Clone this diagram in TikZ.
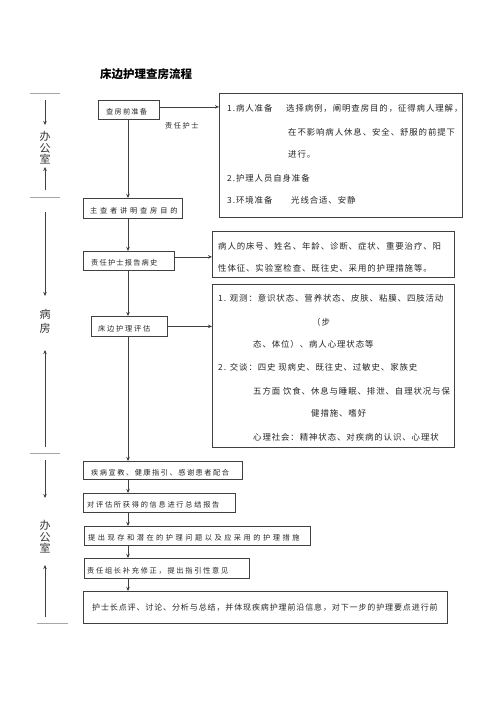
\documentclass[tikz,border=0pt]{standalone}
\usepackage{fontspec}
\newfontfamily\cjk{Noto Sans CJK SC}
\usetikzlibrary{arrows.meta,calc}
\begin{document}
\begin{tikzpicture}[x=1pt,y=-1pt,
 mbox/.style={draw=black!75, line width=0.8pt, anchor=north west, inner sep=0pt},
 txt/.style={anchor=west, inner sep=0pt, text=black!85},
 sm/.style={font=\cjk\fontsize{7.2}{8}\selectfont\addfontfeature{LetterSpace=#1}},
 rt/.style={font=\cjk\fontsize{8.4}{9}\selectfont\addfontfeature{LetterSpace=11}},
 bigt/.style={font=\cjk\fontsize{8}{9}\selectfont\addfontfeature{LetterSpace=11}},
 arr/.style={-{Stealth[length=4pt,width=3.5pt]}, line width=0.7pt, draw=black!75},
 sepl/.style={draw=black!35, line width=0.8pt},
 side/.style={font=\cjk\fontsize{11}{11.5}\selectfont, align=center, inner sep=0pt, text=black!80}
]
\useasboundingbox[fill=white] (0,0) rectangle (500,707);

% title
\node[font=\cjk\bfseries\fontsize{11.5}{12}\selectfont] (title) at (146,74) {床边护理查房流程};

% main boxes
\node[mbox, minimum width=61, minimum height=19] (b1) at (98,100) {};
\node[mbox, minimum width=99, minimum height=20] (b2) at (83,198) {};
\node[mbox, minimum width=91, minimum height=19] (b3) at (83,251) {};
\node[mbox, minimum width=76, minimum height=20] (b4) at (91,316) {};
\node[mbox, minimum width=159, minimum height=18] (b5) at (83,461) {};
\node[mbox, minimum width=152, minimum height=19] (b6) at (83,493) {};
\node[mbox, minimum width=226, minimum height=19] (b7) at (84,526) {};
\node[mbox, minimum width=165, minimum height=20] (b8) at (84,558) {};
\node[mbox, minimum width=364, minimum height=32] (b9) at (83,591) {};

\node[txt, sm=17] (t1) at ($(b1.west)+(8,2)$) {查房前准备};
\node[txt, sm=39] (t2) at ($(b2.west)+(7,2)$) {主查者讲明查房目的};
\node[txt, sm=17] (t3) at ($(b3.west)+(8,2)$) {责任护士报告病史};
\node[txt, sm=25] (t4) at ($(b4.west)+(7,2)$) {床边护理评估};
\node[txt, sm=21] (t5) at ($(b5.west)+(8,2)$) {疾病宣教、健康指引、感谢患者配合};
\node[txt, sm=24] (t6) at ($(b6.west)+(4,2)$) {对评估所获得的信息进行总结报告};
\node[txt, sm=35] (t7) at ($(b7.west)+(4,2)$) {提出现存和潜在的护理问题以及应采用的护理措施};
\node[txt, sm=24] (t8) at ($(b8.west)+(3,2)$) {责任组长补充修正，提出指引性意见};
\node[txt, bigt] (t9) at ($(b9.west)+(9,0)$) {护士长点评、讨论、分析与总结，并体现疾病护理前沿信息，对下一步的护理要点进行前};

\node[txt, sm=21] (lbl) at (165,126) {责任护士};

% right boxes
\node[mbox, minimum width=243, minimum height=124] (r1) at (219,93) {};
\node[mbox, minimum width=242, minimum height=46] (r2) at (212,231) {};
\node[mbox, minimum width=242, minimum height=163] (r3) at (212,284) {};

\node[txt, rt] (r1a) at (227,108) {1.病人准备};
\node[txt, rt] (r1b) at (286,108) {选择病例，阐明查房目的，征得病人理解，};
\node[txt, rt] (r1c) at (288,132) {在不影响病人休息、安全、舒服的前提下};
\node[txt, rt] (r1d) at (288,154) {进行。};
\node[txt, rt] (r1e) at (227,178) {2.护理人员自身准备};
\node[txt, rt] (r1f) at (227,200) {3.环境准备};
\node[txt, rt] (r1g) at (291,200) {光线合适、安静};

\node[txt, rt] (r2a) at (218,246) {病人的床号、姓名、年龄、诊断、症状、重要治疗、阳};
\node[txt, rt] (r2b) at (218,268) {性体征、实验室检查、既往史、采用的护理措施等。};

\node[txt, rt] (r3a) at (218,298) {1. 观测：意识状态、营养状态、皮肤、粘膜、四肢活动};
\node[txt, rt] (r3b) at (312,322) {（步};
\node[txt, rt] (r3c) at (253,344) {态、体位）、病人心理状态等};
\node[txt, rt] (r3d) at (218,367) {2. 交谈：四史 现病史、既往史、过敏史、家族史};
\node[txt, rt] (r3e) at (253,391) {五方面 饮食、休息与睡眠、排泄、自理状况与保};
\node[txt, rt] (r3f) at (311,413) {健措施、嗜好};
\node[txt, rt] (r3g) at (253,437) {心理社会：精神状态、对疾病的认识、心理状};

% horizontal arrows
\draw[arr] ([yshift=3pt]b1.east) -- ([yshift=3pt]b1.east -| r1.west);
\draw[arr] ([yshift=4pt]b3.east) -- ([yshift=4pt]b3.east -| r2.west);
\draw[arr] (b4.east) -- (b4.east -| r3.west);

% main vertical flow
\coordinate (mx) at (128,0);
\draw[arr] (mx |- b1.south) -- (mx |- b2.north);
\draw[arr] (mx |- b2.south) -- (mx |- b3.north);
\draw[arr] (mx |- b3.south) -- (mx |- b4.north);
\draw[arr] (mx |- b4.south) -- (mx |- b5.north);
\draw[arr] (mx |- b5.south) -- (mx |- b6.north);
\draw[arr] (mx |- b6.south) -- (mx |- b7.north);
\draw[arr] (mx |- b7.south) -- (mx |- b8.north);
\draw[arr] (mx |- b8.south) -- (mx |- b9.north);

% left side markers
\draw[sepl] (30,93) -- (60,93);
\draw[sepl] (30,197) -- (60,197);
\draw[sepl] (30,453) -- (60,453);
\draw[sepl] (37,623) -- (68,623);

\draw[arr] (45,100) -- (45,125);
\draw[arr] (45,190) -- (45,167);
\draw[arr] (45,212) -- (45,296);
\draw[arr] (45,447) -- (45,350);
\draw[arr] (45,460) -- (45,498);
\draw[arr] (45,617) -- (45,565);

\node[side] (s1) at (45,148) {办\\公\\室};
\node[side, font=\cjk\fontsize{11}{14}\selectfont] (s2) at (45,321) {病\\房};
\node[side] (s3) at (45,537) {办\\公\\室};
\end{tikzpicture}
\end{document}
